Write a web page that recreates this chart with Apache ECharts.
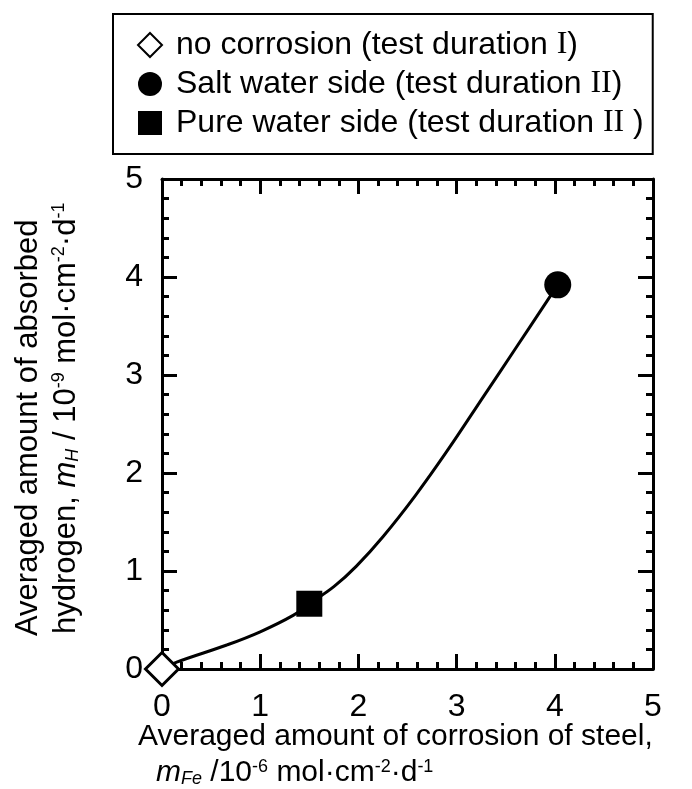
<!DOCTYPE html>
<html>
<head>
<meta charset="utf-8">
<script src="https://cdn.jsdelivr.net/npm/echarts@6/dist/echarts.min.js"></script>
<style>
html,body{margin:0;padding:0;background:#fff;}
#chart{width:692px;height:789px;}
</style>
</head>
<body>
<div id="chart"></div>
<script>
// ---- data ----
const xTicks = [0, 1, 2, 3, 4, 5];
const yTicks = [0, 1, 2, 3, 4, 5];
const seriesNames = [
  'no corrosion (test duration {r|I})',
  'Salt water side (test duration {r|II})',
  'Pure water side (test duration {r|II} )'
];
const noCorrosion = [[0, 0]];
const saltWater = [[4.03, 3.92]];
const pureWater = [[1.5, 0.666]];
// hand-drawn guide curve through the markers
const curveX = [0, 0.15, 0.66, 1.0, 1.34, 1.5, 1.75, 1.98, 2.25, 2.58, 2.9, 3.28, 3.6, 4.03];
const curveY = [0, 0.07, 0.245, 0.38, 0.55, 0.666, 0.84, 1.05, 1.35, 1.77, 2.22, 2.79, 3.27, 3.92];

const FONT = "'Liberation Sans', Arial, sans-serif";
const curve = curveX.map((x, i) => [x, curveY[i]]);

const chart = echarts.init(document.getElementById('chart'), null, {renderer: 'canvas'});

function rich(fs) {
  return {
    i: {fontFamily: FONT, fontSize: fs, fontStyle: 'italic', color: '#000'},
    sub: {fontFamily: FONT, fontSize: 18, fontStyle: 'italic', verticalAlign: 'bottom', lineHeight: 18, color: '#000'},
    sup: {fontFamily: FONT, fontSize: 18, verticalAlign: 'top', lineHeight: 18, color: '#000'},
    n: {fontFamily: FONT, fontSize: fs, color: '#000'}
  };
}

function axisCommon(showLabel) {
  return {
    type: 'value', min: 0, max: 5, interval: 1,
    axisLine: {show: true, onZero: false, lineStyle: {color: '#000', width: 3}},
    axisTick: {show: true, inside: true, length: 15, lineStyle: {color: '#000', width: 3}},
    minorTick: {show: true, splitNumber: 5, length: 7, lineStyle: {color: '#000', width: 3}},
    splitLine: {show: false},
    axisLabel: {show: showLabel, color: '#000', fontSize: 32, fontFamily: FONT},
  };
}

const xBottom = Object.assign(axisCommon(true), {position: 'bottom'});
xBottom.axisLabel.margin = 22;
xBottom.axisLabel.formatter = v => String(xTicks[xTicks.indexOf(v)]);
const xTop = Object.assign(axisCommon(false), {position: 'top'});
const yLeft = Object.assign(axisCommon(true), {position: 'left'});
yLeft.axisLabel.margin = 19;
yLeft.axisLabel.formatter = v => String(yTicks[yTicks.indexOf(v)]);
const yRight = Object.assign(axisCommon(false), {position: 'right'});

const option = {
  animation: false,
  backgroundColor: '#fff',
  grid: {left: 162, right: 39, top: 179, bottom: 120, containLabel: false},
  xAxis: [xBottom, xTop],
  yAxis: [yLeft, yRight],
  legend: {
    orient: 'vertical',
    left: 113, top: 14,
    padding: [14, 9, 14, 24],
    itemWidth: 24, itemHeight: 24,
    itemGap: 5,
    borderColor: '#000', borderWidth: 2,
    backgroundColor: '#fff',
    data: seriesNames,
    formatter: n => n,
    textStyle: {
      fontFamily: FONT, fontSize: 32, color: '#000', lineHeight: 34,
      padding: [0, 0, 0, 9],
      rich: {r: {fontFamily: "'Liberation Serif', 'DejaVu Serif', serif", fontSize: 32, color: '#000'}}
    },
    selectedMode: false
  },
  series: [
    {
      type: 'line', name: 'curve', data: curve, smooth: 0.4,
      showSymbol: false, symbol: 'none',
      lineStyle: {color: '#000', width: 3}, z: 2, silent: true
    },
    {
      type: 'scatter', name: seriesNames[0], data: noCorrosion,
      symbol: 'diamond', symbolSize: 33, clip: false,
      itemStyle: {color: '#fff', borderColor: '#000', borderWidth: 3, opacity: 1}, z: 5
    },
    {
      type: 'scatter', name: seriesNames[1], data: saltWater,
      symbol: 'circle', symbolSize: 27, clip: false,
      itemStyle: {color: '#000', opacity: 1}, z: 5
    },
    {
      type: 'scatter', name: seriesNames[2], data: pureWater,
      symbol: 'rect', symbolSize: 26, clip: false,
      itemStyle: {color: '#000', opacity: 1}, z: 5
    }
  ],
  graphic: [
    {
      type: 'text', x: 28, y: 636, rotation: Math.PI / 2,
      style: {text: 'Averaged amount of absorbed', font: "31px " + FONT, fill: '#000', align: 'left', verticalAlign: 'middle'}
    },
    {
      type: 'text', x: 66, y: 634, rotation: Math.PI / 2,
      style: {
        text: '{n|hydrogen, }{i|m}{sub|H}{n| / 10}{sup|-9}{n| mol·cm}{sup|-2}{n|·d}{sup|-1}',
        rich: rich(31), align: 'left', verticalAlign: 'middle', fill: '#000'
      }
    },
    {
      type: 'text', x: 138, y: 737,
      style: {text: 'Averaged amount of corrosion of steel,', font: "30px " + FONT, fill: '#000', align: 'left', verticalAlign: 'middle'}
    },
    {
      type: 'text', x: 156, y: 773,
      style: {
        text: '{i|m}{sub|Fe}{n| /10}{sup|-6}{n| mol·cm}{sup|-2}{n|·d}{sup|-1}',
        rich: rich(30), align: 'left', verticalAlign: 'middle', fill: '#000'
      }
    }
  ]
};
chart.setOption(option);
</script>
</body>
</html>
